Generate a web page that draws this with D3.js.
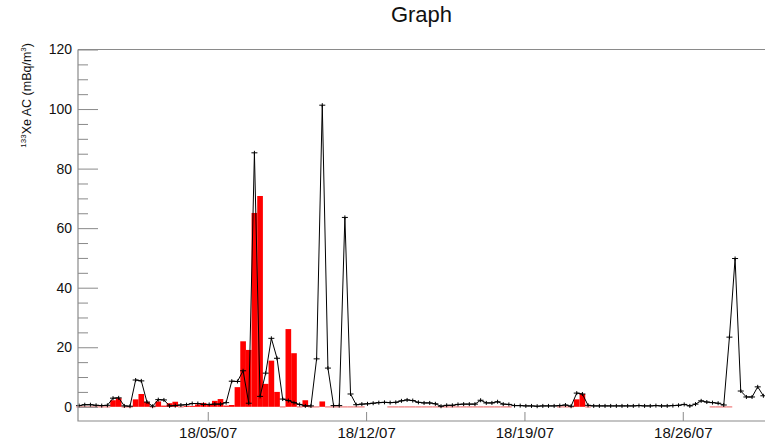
<!DOCTYPE html>
<html>
<head>
<meta charset="utf-8">
<script src="https://cdn.jsdelivr.net/npm/d3@7"></script>
<style>
  body { margin: 0; background: #fff; }
  svg { display: block; }
  text { font-family: "Liberation Sans", Arial, Helvetica, sans-serif; }
</style>
</head>
<body>
<svg id="chart" width="765" height="442"></svg>
<script>
// Sampling: one value every 6 hours starting from the first collection time
const firstSample = Date.UTC(2018, 5, 29, 7, 30);
const stepHours = 6;

// 133Xe activity concentration (mBq/m3), black trace
const activity = [
  0.4, 0.7, 0.7, 0.5, 0.4, 0.5, 2.9, 3.0, 0.3, 0.2,
  9.0, 8.7, 1.6, 0.2, 2.4, 2.3, 0.3, 0.4, 0.6, 0.7,
  1.1, 1.1, 0.8, 0.8, 0.9, 0.9, 1.4, 8.6, 8.5, 12.1,
  1.2, 85.3, 3.5, 11.3, 23.0, 16.3, 2.6, 2.1, 1.4, 0.8,
  0.3, 0.3, 16.1, 101.3, 13.0, 0.4, 0.4, 63.6, 4.3, 0.7,
  0.9, 1.0, 1.2, 1.4, 1.5, 1.4, 1.5, 2.0, 2.3, 2.1,
  1.5, 1.3, 1.3, 1.0, 0.2, 0.5, 0.5, 0.8, 0.9, 0.9,
  0.9, 2.2, 1.3, 1.3, 1.7, 0.9, 0.8, 0.4, 0.4, 0.3,
  0.3, 0.2, 0.3, 0.3, 0.3, 0.4, 0.6, 0.2, 4.6, 4.3,
  0.5, 0.3, 0.3, 0.3, 0.3, 0.3, 0.3, 0.3, 0.3, 0.4,
  0.3, 0.3, 0.4, 0.3, 0.3, 0.4, 0.5, 0.8, 0.3, 0.9,
  2.0, 1.6, 1.4, 1.2, 0.6, 23.4, 49.8, 5.3, 3.3, 3.3,
  6.7, 3.7
];

// Second measurement series (red bars); null where no sample exists
const bars = [
  0, 0, 0, 0, 0, 0, 2.2, 2.9, 0, 0,
  2.5, 4.3, 1.6, 0, 1.8, 0.4, 1.2, 1.7, 0, 0.3,
  0.3, 0.8, 1.3, 0.6, 2.0, 2.6, 0.4, 0.6, 6.6, 22.0,
  19.1, 65.1, 70.8, 7.7, 15.5, 5.0, 0, 26.1, 18.0, 0,
  2.2, 0, 0, 1.8, 0, 0, 0, 0, 0, 0,
  0, null, null, null, null, 0, 0, 0, 0, 0,
  0, 0, 0, 0, 0, 0, 0, 0, 0, 0,
  0, 0, 0, 0, 0, 0, 0, null, null, null,
  null, null, null, null, null, 0, 0, 0, 2.5, 4.3,
  0, null, null, null, null, null, null, null, null, null,
  null, null, null, null, null, null, null, null, null, null,
  null, null, 0, 0, 0, 0, null, null, null, null,
  null, null
];

const yTicks = [0, 20, 40, 60, 80, 100, 120];
const yMinorTicks = [5, 10, 15, 25, 30, 35, 45, 50, 55, 65, 70, 75, 85, 90, 95, 105, 110, 115];
const titleText = "Graph";

const hour = 3600 * 1000;
const times = activity.map((_, i) => new Date(firstSample + i * stepHours * hour));

const frame = { left: 78, right: 765, top: 49.5, bottom: 421 };
const x = d3.scaleUtc()
  .domain([new Date(Date.UTC(2018, 5, 29, 6, 20)), new Date(Date.UTC(2018, 6, 29, 15, 14))])
  .range([frame.left, frame.right]);
const y = d3.scaleLinear().domain([0, 120]).range([406.8, 49.5]);

const svg = d3.select("#chart");
const axisColor = "#8a8a8a";

// Title
svg.append("text")
  .attr("x", (frame.left + frame.right) / 2)
  .attr("y", 22)
  .attr("text-anchor", "middle")
  .attr("font-size", 22)
  .attr("fill", "#111")
  .text(titleText);

// Y axis title with superscripts
const yl = svg.append("text")
  .attr("transform", "translate(31,43) rotate(-90)")
  .attr("text-anchor", "end")
  .attr("font-size", 12.5)
  .attr("fill", "#111");
yl.append("tspan").attr("font-size", 8).attr("dy", -5).text("133");
yl.append("tspan").attr("dy", 5).text("Xe AC (mBq/m");
yl.append("tspan").attr("font-size", 8).attr("dy", -5).text("3");
yl.append("tspan").attr("dy", 5).text(")");

// Bars, one 6-hour bin per sample
const barG = svg.append("g");
bars.forEach((v, i) => {
  if (v === null) return;
  const t = times[i].getTime();
  const x0 = x(new Date(t - stepHours / 2 * hour));
  const x1 = x(new Date(t + stepHours / 2 * hour));
  if (v > 0) {
    barG.append("rect")
      .attr("x", x0).attr("width", x1 - x0)
      .attr("y", y(v)).attr("height", y(0) - y(v))
      .attr("fill", "#ff0000");
  } else {
    barG.append("rect")
      .attr("x", x0).attr("width", x1 - x0)
      .attr("y", y(0) - 0.5).attr("height", 1.2)
      .attr("fill", "#f07a7a");
  }
});

// Activity trace
const line = d3.line().x((d, i) => x(times[i])).y(d => y(d));
svg.append("path")
  .datum(activity)
  .attr("d", line)
  .attr("fill", "none")
  .attr("stroke", "#000")
  .attr("stroke-width", 1);

// Point markers
svg.append("g").selectAll("path")
  .data(activity)
  .join("path")
  .attr("d", (d, i) => {
    const px = x(times[i]), py = y(d);
    return `M${px - 3},${py}h6M${px},${py - 2}v4`;
  })
  .attr("stroke", "#000")
  .attr("stroke-width", 1)
  .attr("fill", "none");

// Frame lines
svg.append("path")
  .attr("d", `M${frame.left},${frame.top}H${frame.right}M${frame.left},${frame.top}V${frame.bottom}H${frame.right}`)
  .attr("fill", "none")
  .attr("stroke", axisColor)
  .attr("stroke-width", 1.2);

// Y axis ticks and labels
const yAxis = svg.append("g")
  .attr("transform", `translate(${frame.left},0)`)
  .call(d3.axisLeft(y).tickValues(yTicks).tickSize(-20).tickPadding(6));
yAxis.select(".domain").remove();
yAxis.selectAll(".tick line").attr("stroke", axisColor);
yAxis.selectAll(".tick text").attr("font-size", 14).attr("fill", "#111")
  .style("font-family", '"Liberation Sans", Arial, sans-serif');

const yMinor = svg.append("g")
  .attr("transform", `translate(${frame.left},0)`)
  .call(d3.axisLeft(y).tickValues(yMinorTicks).tickSize(-10).tickFormat(""));
yMinor.select(".domain").remove();
yMinor.selectAll(".tick line").attr("stroke", axisColor);

// X axis: weekly ticks
const xAxis = svg.append("g")
  .attr("transform", `translate(0,${frame.bottom})`)
  .call(d3.axisBottom(x).ticks(d3.utcThursday.every(1)).tickFormat(d3.utcFormat("%y/%d/%m"))
    .tickSize(-9).tickPadding(6));
xAxis.select(".domain").remove();
xAxis.selectAll(".tick line").attr("stroke", axisColor);
xAxis.selectAll(".tick text").attr("font-size", 15).attr("fill", "#111")
  .style("font-family", '"Liberation Sans", Arial, sans-serif');
</script>
</body>
</html>
